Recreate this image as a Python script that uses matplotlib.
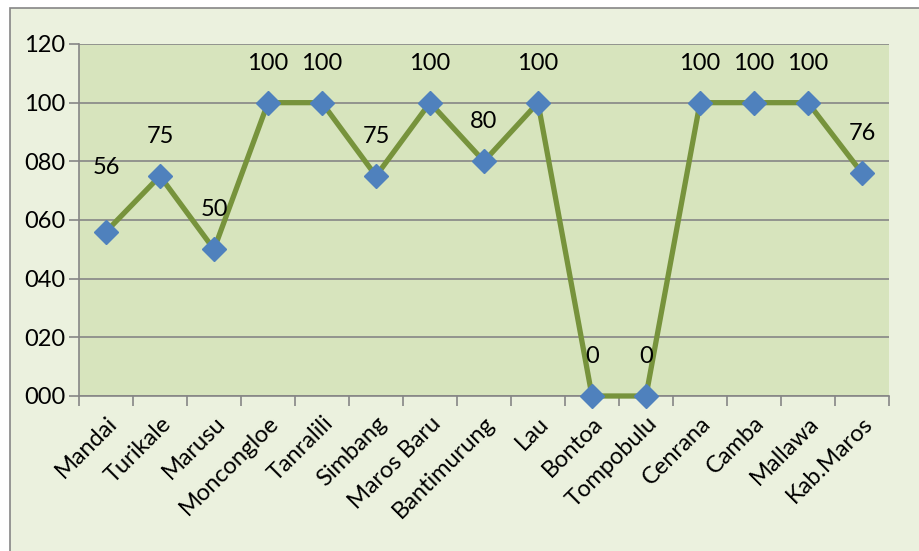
import matplotlib
matplotlib.use("Agg")
import matplotlib.pyplot as plt
from matplotlib.patches import Rectangle

categories = ["Mandai", "Turikale", "Marusu", "Moncongloe", "Tanralili", "Simbang",
              "Maros Baru", "Bantimurung", "Lau", "Bontoa", "Tompobulu", "Cenrana",
              "Camba", "Mallawa", "Kab.Maros"]
values = [56, 75, 50, 100, 100, 75, 100, 80, 100, 0, 0, 100, 100, 100, 76]
yticks = [0, 20, 40, 60, 80, 100, 120]

plt.rcParams['font.family'] = ['Lato', 'DejaVu Sans']

W, H = 919, 551
fig = plt.figure(figsize=(W / 100, H / 100), dpi=100)
fig.patch.set_facecolor('white')

# outer chart area
bg = Rectangle((10 / W, -0.01), 1.0, 1 - 8 / H + 0.01, transform=fig.transFigure,
               facecolor='#EBF1DE', edgecolor='#868686', linewidth=1.2, zorder=-5)
fig.add_artist(bg)

left, right, top, bottom = 79, 889, 44, 396
ax = fig.add_axes([left / W, 1 - bottom / H, (right - left) / W, (bottom - top) / H])
ax.set_zorder(2)
ax.set_facecolor('#D7E4BD')

x = list(range(len(categories)))
ax.plot(x, values, color='#77933C', linewidth=3.8, marker='D', markersize=12.5,
        markerfacecolor='#4F81BD', markeredgecolor='#4F81BD', zorder=3, clip_on=False)

offsets = [22 if i == 0 else 13.5 for i in range(len(values))]
for xi, v, off in zip(x, values, offsets):
    ax.text(xi, v + off, f"{v}", ha='center', va='center', fontsize=17, color='black', zorder=4)

ax.set_xlim(-0.5, len(categories) - 0.5)
ax.set_ylim(0, 120)
ax.set_yticks(yticks)
ax.set_yticklabels([f"{t:03d}" for t in yticks], fontsize=17)
ax.yaxis.grid(True, color='#868686', linewidth=1.2)
ax.set_axisbelow(True)

ax.set_xticks([i - 0.5 for i in range(len(categories) + 1)], minor=False)
ax.set_xticklabels([])
ax.set_xticks(x, minor=True)
ax.set_xticklabels(categories, minor=True, rotation=45, ha='right', rotation_mode='anchor', fontsize=17)
ax.tick_params(axis='x', which='minor', length=0, pad=12)
ax.tick_params(axis='x', which='major', length=7, color='#868686', width=1.2, direction='out')
ax.tick_params(axis='y', length=7, color='#868686', width=1.2, pad=3)

for s in ['top', 'right']:
    ax.spines[s].set_visible(False)
for s in ['left', 'bottom']:
    ax.spines[s].set_color('#868686')
    ax.spines[s].set_linewidth(1.2)

fig.savefig('out.png', dpi=100)
